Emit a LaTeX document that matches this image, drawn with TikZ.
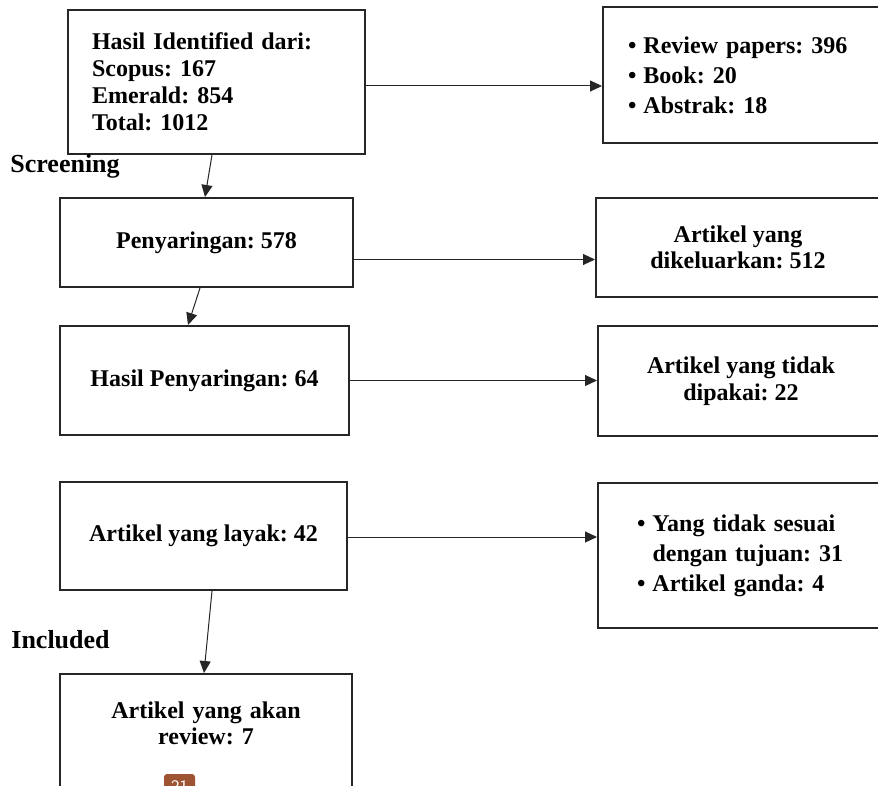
\documentclass[tikz,border=0pt]{standalone}
\usepackage{fontspec}
\setmainfont{Liberation Serif}
\usetikzlibrary{arrows.meta}
\definecolor{badgebrown}{RGB}{158,84,50}
\newcommand{\bitem}[1]{\makebox[7.75pt][l]{\textbullet}#1}
\frenchspacing

\begin{document}
\begin{tikzpicture}[x=0.5pt,y=-0.5pt,
  box/.style={draw=black!85, line width=1pt, font=\fontsize{12}{13.5}\selectfont\bfseries, align=center},
  listbox/.style={box, align=left, font=\fontsize{12}{15}\selectfont\bfseries},
  arr/.style={draw=black!85, line width=0.5pt, -{Triangle[length=6pt,width=5.5pt]}},
  stage/.style={font=\fontsize{13}{15}\selectfont\bfseries, anchor=base west, inner sep=0pt},
  badge/.style={fill=badgebrown, rounded corners=1.5pt, text=white, inner sep=0pt,
    minimum width=15.5pt, minimum height=12pt, font=\sffamily\fontsize{8}{8}\selectfont}]
\useasboundingbox (0,0) rectangle (878,786); % page
\clip (0,0) rectangle (878,786);

% left column
\node[box, text width=124.5pt, align=left, inner xsep=12pt, minimum height=72pt] (ident) at (216.5,82) {Hasil Identified dari:\\ Scopus: 167\\ Emerald: 854\\ Total: 1012};
\node[box, minimum width=146.5pt, minimum height=44.5pt] (penyar) at (206.5,242.5) {Penyaringan: 578};
\node[box, minimum width=144.5pt, minimum height=54.5pt] (hasil) at (204.5,380.5) {Hasil Penyaringan: 64};
\node[box, minimum width=143.5pt, minimum height=54pt] (layak) at (203.5,536) {Artikel yang layak: 42};
\node[box, anchor=north, text width=140pt, inner xsep=3pt, inner ysep=13.5pt, text height=8.5pt, text depth=40pt, font=\fontsize{12}{13}\selectfont\bfseries] (akan) at (206,673) {Artikel yang akan\\ review: 7};

% right column
\node[listbox, text width=118pt, inner xsep=12.5pt, minimum height=68pt] (excl1) at (746,75) {\bitem{Review papers: 396}\\ \bitem{Book: 20}\\ \bitem{Abstrak: 18}};
\node[box, minimum width=142pt, minimum height=49.5pt, font=\fontsize{12}{13}\selectfont\bfseries] (excl2) at (738,247.5) {Artikel yang\\ dikeluarkan: 512};
\node[box, minimum width=143pt, minimum height=55pt] (excl3) at (741,381) {Artikel yang tidak\\ dipakai: 22};
\node[listbox, text width=110pt, inner xsep=19.5pt, minimum height=72.5pt] (excl4) at (747,555.5) {\bitem{Yang tidak sesuai}\\ \hspace*{7.75pt}dengan tujuan: 31\\ \bitem{Artikel ganda: 4}};

% stage labels
\node[stage] (screen) at (10,173) {Screening};
\node[stage] (incl) at (11,648) {Included};

% down arrows
\draw[arr] ([xshift=-2.25pt]ident.south) -- ([xshift=-0.75pt]penyar.north);
\draw[arr] ([xshift=-3.25pt]penyar.south) -- ([xshift=-8.25pt]hasil.north);
\draw[arr] ([xshift=4.25pt]layak.south) -- ([xshift=-1pt]akan.north);

% side arrows
\draw[arr] ([yshift=-2pt]ident.east) -- ([yshift=-2pt]ident.east -| excl1.west);
\draw[arr] ([yshift=-8.5pt]penyar.east) -- ([yshift=-8.5pt]penyar.east -| excl2.west);
\draw[arr] (hasil.east) -- (hasil.east -| excl3.west);
\draw[arr] ([yshift=-0.5pt]layak.east) -- ([yshift=-0.5pt]layak.east -| excl4.west);

% page number
\node[badge] (page) at (179.5,786) {21};
\end{tikzpicture}
\end{document}
